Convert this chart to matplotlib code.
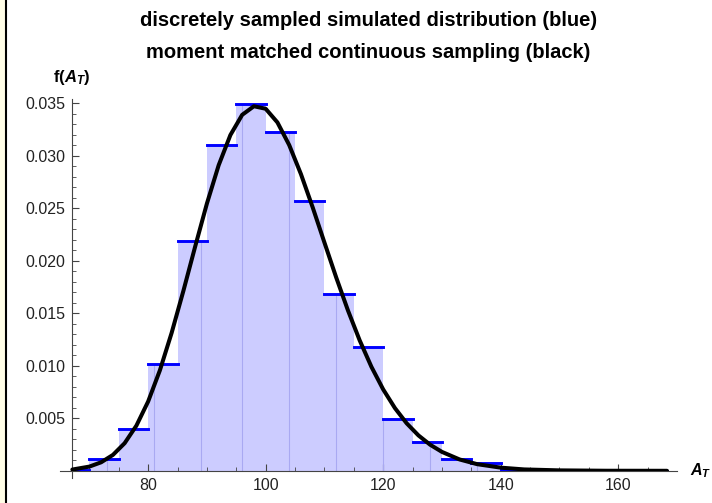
import numpy as np
import matplotlib
matplotlib.use('Agg')
import matplotlib.pyplot as plt
from matplotlib.patches import Rectangle
from matplotlib.lines import Line2D

plt.rcParams['font.family'] = ['Liberation Sans', 'DejaVu Sans']
plt.rcParams['mathtext.fontset'] = 'custom'
plt.rcParams['mathtext.rm'] = 'Liberation Sans:bold'
plt.rcParams['mathtext.bf'] = 'Liberation Sans:bold'
plt.rcParams['mathtext.it'] = 'Liberation Sans:bold:italic'

# discretely sampled distribution: bin start and density (width 5)
bin_start = [65, 70, 75, 80, 85, 90, 95, 100, 105, 110, 115, 120, 125, 130,
             135, 140, 145, 150, 155, 160, 165]
bin_density = [0.0001, 0.0011, 0.0040, 0.0102, 0.0219, 0.0310, 0.0349, 0.0323,
               0.0257, 0.0168, 0.0118, 0.0049, 0.0027, 0.0011, 0.0007, 0.0001,
               0.00005, 0.00002, 0.00001, 0.0, 0.0]
bin_width = 5

# moment matched continuous density (black curve)
curve_x = [67.1, 70, 72, 74, 76, 78, 80, 82, 84, 86, 88, 90, 92, 94, 96, 98,
           100, 102, 104, 106, 108, 110, 112, 114, 116, 118, 120, 122, 124,
           126, 128, 130, 133, 136, 140, 144, 150, 158, 168.3]
curve_y = [0.00012, 0.00040, 0.00081, 0.00151, 0.00263, 0.00430, 0.00660,
           0.00957, 0.01314, 0.01714, 0.02135, 0.02545, 0.02910, 0.03198,
           0.03390, 0.03472, 0.03448, 0.03318, 0.03103, 0.02826, 0.02509,
           0.02174, 0.01842, 0.01528, 0.01242, 0.00990, 0.00775, 0.00597,
           0.00452, 0.00337, 0.00248, 0.00180, 0.00108, 0.00063, 0.00030,
           0.00013, 0.00004, 0.000005, 0.0]

# faint seams inside the filled area
seam_x = [73, 81, 89, 96, 104, 112, 120, 128, 136]

x_ticks = [80, 100, 120, 140, 160]
y_ticks = [0.005, 0.010, 0.015, 0.020, 0.025, 0.030, 0.035]
y_labels = ['0.005', '0.010', '0.015', '0.020', '0.025', '0.030', '0.035']

x_lo, x_hi = 67.1, 168.3   # plot range of the data

fig = plt.figure(figsize=(7.12, 5.03), dpi=100)
ax = fig.add_axes([60 / 712, 32.2 / 503, 617 / 712, 371.5 / 503])

starts = np.array(bin_start, dtype=float)
dens = np.array(bin_density)
edges = np.clip(np.append(starts, starts[-1] + bin_width), x_lo, x_hi)
ax.fill_between(edges, np.append(dens, dens[-1]), step='post',
                color='#ccccff', lw=0, zorder=1)

# seams
idx = np.searchsorted(starts, seam_x, side='right') - 1
ax.vlines(seam_x, 0, dens[idx], color='#a9a9f2', lw=0.8, zorder=2)

# blue segments
for s, d in zip(starts, dens):
    a = max(s, x_lo)
    b = min(s + bin_width, x_hi)
    ax.plot([a, b], [d, d], color='#0000ff', lw=2.1,
            solid_capstyle='projecting', zorder=3)

ax.plot(curve_x, curve_y, color='black', lw=2.9, zorder=4,
        solid_capstyle='round')

ax.set_xlim(65.0, 170.0)
ax.set_ylim(0, 0.03538)

ax.spines['top'].set_visible(False)
ax.spines['right'].set_visible(False)
ax.spines['left'].set_position(('data', x_lo))
ax.spines['left'].set_bounds(-0.0007, 0.03538)
for sp in ('left', 'bottom'):
    ax.spines[sp].set_color('#444444')
    ax.spines[sp].set_linewidth(0.8)

ax.set_xticks(x_ticks)
ax.set_xticks(np.arange(70, 170, 5), minor=True)
ax.set_yticks(y_ticks)
ax.set_yticklabels(y_labels)
ax.set_yticks(np.arange(0.001, 0.0355, 0.001), minor=True)
ax.tick_params(which='major', direction='in', length=5, width=0.8,
               color='#444444', labelcolor='#222222', labelsize=11.5, pad=5)
ax.tick_params(which='minor', direction='in', length=3, width=0.6,
               color='#444444')

fig.text(368.5 / 712, 1 - 20 / 503,
         'discretely sampled simulated distribution (blue)',
         ha='center', va='center', fontsize=14.5, fontweight='bold')
fig.text(368.5 / 712, 1 - 52 / 503,
         'moment matched continuous sampling (black)',
         ha='center', va='center', fontsize=14.5, fontweight='bold')

fig.text(71.7 / 712, 1 - 77 / 503, r'$\mathbf{f(}A_T\mathbf{)}$',
         ha='center', va='center', fontsize=12)
fig.text(690 / 712, 1 - 471 / 503, r'$A_T$', ha='left', va='center',
         fontsize=11.5)

# frame strip on the left edge
fig.add_artist(Rectangle((0, 0), 5 / 712, 1, transform=fig.transFigure,
                         color='#fffde6', lw=0))
fig.add_artist(Line2D([6 / 712, 6 / 712], [0, 1], transform=fig.transFigure,
                      color='black', lw=1.5))

fig.savefig('out.png', dpi=100)
